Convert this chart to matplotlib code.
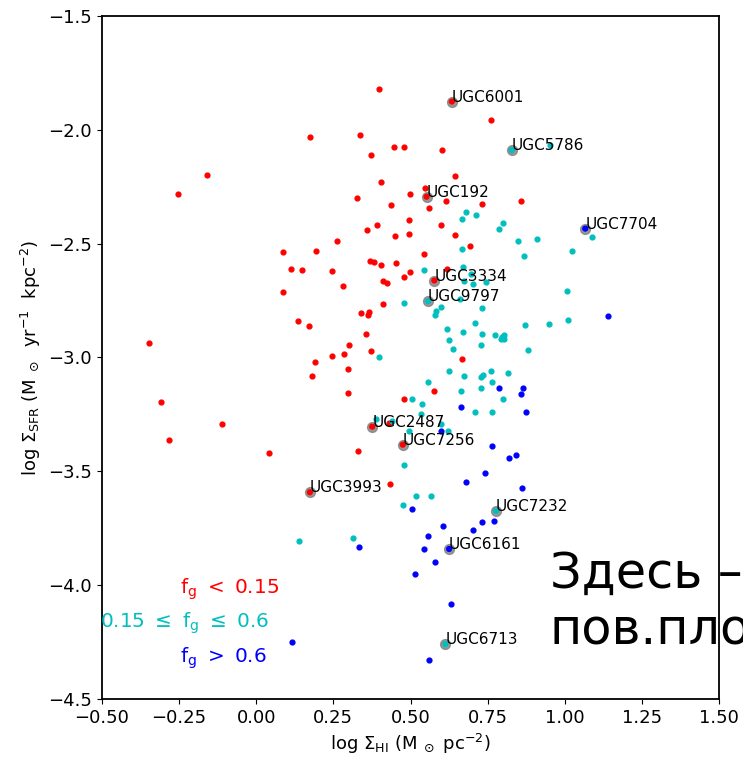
import numpy as np
import matplotlib
matplotlib.use("Agg")
from matplotlib import pyplot as plt

# gas fraction f_g < 0.15
red_x = [0.398, 0.174, 0.337, 0.447, 0.478, 0.372, -0.160, -0.253, 0.405, 0.499,
         0.326, 0.437, 0.495, 0.390, 0.359, 0.451, 0.495, 0.262, 0.086, 0.194,
         0.112, 0.150, 0.247, 0.368, 0.383, 0.405, 0.454, 0.499, 0.478, 0.410,
         0.423, 0.282, 0.087, 0.410, 0.341, 0.365, 0.363, 0.134, 0.172, 0.356,
         -0.347, 0.302, 0.372, 0.245, 0.284, 0.191, 0.296, 0.180, 0.297, -0.307,
         0.480, -0.112, -0.281, 0.042, 0.329, 0.432, 0.761, 0.603, 0.644, 0.548,
         0.614, 0.559, 0.731, 0.859, 0.600, 0.643, 0.693, 0.544, 0.617, 0.667,
         0.576, 0.431]
red_y = [-1.822, -2.031, -2.023, -2.075, -2.075, -2.110, -2.197, -2.283, -2.229, -2.283,
         -2.298, -2.330, -2.395, -2.416, -2.440, -2.468, -2.456, -2.487, -2.535, -2.532,
         -2.610, -2.617, -2.620, -2.575, -2.582, -2.594, -2.585, -2.626, -2.648, -2.664,
         -2.671, -2.686, -2.712, -2.763, -2.804, -2.799, -2.813, -2.838, -2.861, -2.897,
         -2.936, -2.946, -2.971, -2.993, -2.986, -3.021, -3.049, -3.082, -3.156, -3.197,
         -3.181, -3.293, -3.361, -3.418, -3.410, -3.554, -1.958, -2.088, -2.201, -2.255,
         -2.314, -2.343, -2.324, -2.311, -2.418, -2.462, -2.509, -2.544, -2.613, -3.006,
         -3.147, -3.288]

# 0.15 <= f_g <= 0.6
cyan_x = [0.953, 0.680, 0.712, 0.668, 0.801, 0.788, 1.087, 0.847, 0.909, 0.668,
          1.024, 0.867, 0.543, 0.671, 0.674, 0.704, 0.744, 0.695, 0.478, 0.659,
          0.583, 0.598, 0.580, 0.731, 1.007, 0.709, 0.872, 0.947, 1.010, 0.618,
          0.670, 0.732, 0.774, 0.796, 0.803, 0.793, 0.804, 0.624, 0.639, 0.728,
          0.881, 0.398, 0.624, 0.674, 0.729, 0.734, 0.762, 0.815, 0.556, 0.664,
          0.729, 0.765, 0.798, 0.506, 0.536, 0.709, 0.765, 0.533, 0.598, 0.621,
          0.494, 0.387, 0.439, 0.478, 0.517, 0.566, 0.476, 0.139, 0.313]
cyan_y = [-2.068, -2.361, -2.373, -2.392, -2.408, -2.437, -2.471, -2.490, -2.478, -2.524,
          -2.532, -2.554, -2.617, -2.604, -2.662, -2.676, -2.667, -2.634, -2.760, -2.744,
          -2.794, -2.777, -2.813, -2.784, -2.707, -2.848, -2.857, -2.853, -2.837, -2.875,
          -2.888, -2.895, -2.902, -2.908, -2.900, -2.919, -2.919, -2.923, -2.964, -2.945,
          -2.966, -2.999, -3.059, -3.081, -3.087, -3.077, -3.060, -3.068, -3.106, -3.147,
          -3.135, -3.107, -3.181, -3.181, -3.205, -3.239, -3.239, -3.248, -3.292, -3.325,
          -3.321, -3.270, -3.279, -3.472, -3.608, -3.607, -3.646, -3.806, -3.794]

# f_g > 0.6
blue_x = [1.139, 0.787, 0.865, 0.858, 0.873, 0.664, 0.598, 0.765, 0.820, 0.842,
          0.741, 0.680, 0.862, 0.506, 0.332, 0.515, 0.117, 0.605, 0.704, 0.733,
          0.771, 0.556, 0.544, 0.580, 0.631, 0.560]
blue_y = [-2.816, -3.135, -3.134, -3.161, -3.239, -3.217, -3.321, -3.390, -3.441, -3.428,
          -3.507, -3.548, -3.572, -3.664, -3.831, -3.952, -4.251, -3.738, -3.757, -3.724,
          -3.719, -3.782, -3.842, -3.899, -4.084, -4.327]

# labelled galaxies
gal_names = ["UGC6001", "UGC5786", "UGC192", "UGC7704", "UGC3334", "UGC9797",
             "UGC2487", "UGC7256", "UGC3993", "UGC7232", "UGC6161", "UGC6713"]
gal_x = [0.634, 0.828, 0.552, 1.066, 0.577, 0.557, 0.376, 0.475, 0.174, 0.777, 0.625, 0.613]
gal_y = [-1.876, -2.090, -2.294, -2.434, -2.662, -2.753, -3.304, -3.383, -3.592, -3.674, -3.841, -4.259]
gal_col = ["r", "c", "r", "b", "r", "c", "r", "r", "r", "c", "b", "c"]

plt.rcParams['font.size'] = 13

fig = plt.figure(figsize=(7.43, 7.59), dpi=100)
ax = fig.add_axes([0.137, 0.079, 0.831, 0.900])

ax.scatter(red_x, red_y, s=12, c="r", zorder=2)
ax.scatter(cyan_x, cyan_y, s=12, c="c", zorder=2)
ax.scatter(blue_x, blue_y, s=12, c="b", zorder=2)

ax.scatter(gal_x, gal_y, s=50, c="grey", alpha=0.8, zorder=3)
ax.scatter(gal_x, gal_y, s=12, c=gal_col, zorder=4)
for name, x, y in zip(gal_names, gal_x, gal_y):
    ax.text(x, y, name, fontsize=11, ha="left", va="baseline", zorder=5)

ax.text(0.126, 0.160, r'$\mathregular{f_g\ <\ 0.15}$', color="r", fontsize=14.4,
        transform=ax.transAxes, va="center")
ax.text(-0.003, 0.111, r'$\mathregular{0.15\ \leq\ f_g\ \leq\ 0.6}$', color="c", fontsize=14.4,
        transform=ax.transAxes, va="center")
ax.text(0.126, 0.060, r'$\mathregular{f_g\ >\ 0.6}$', color="b", fontsize=14.4,
        transform=ax.transAxes, va="center")

ax.set_xlim(-0.5, 1.5)
ax.set_ylim(-4.5, -1.5)
ax.set_xticks(np.arange(-0.5, 1.51, 0.25))
ax.set_yticks(np.arange(-4.5, -1.49, 0.5))
ax.xaxis.set_major_formatter(matplotlib.ticker.FuncFormatter(
    lambda v, p: f"{v:.2f}".replace("-", "\u2212")))
ax.yaxis.set_major_formatter(matplotlib.ticker.FuncFormatter(
    lambda v, p: f"{v:.1f}".replace("-", "\u2212")))
for sp in ax.spines.values():
    sp.set_linewidth(1.3)

ax.set_xlabel(r'log $\Sigma_{\rm HI}$ ($\rm M_{\ \odot}$ pc$^{-2}$)', fontsize=13)
ax.set_ylabel(r'log $\Sigma_{\rm SFR}$ ($\rm M_{\ \odot}$  yr$^{-1}$  kpc$^{-2}$)', fontsize=13)

# overlaid slide text, clipped at the right edge
fig.text(0.740, 0.226, "Здесь –", fontsize=35.5, color="black")
fig.text(0.740, 0.151, "пов.пло", fontsize=35.5, color="black")

fig.savefig("out.png", dpi=100)
